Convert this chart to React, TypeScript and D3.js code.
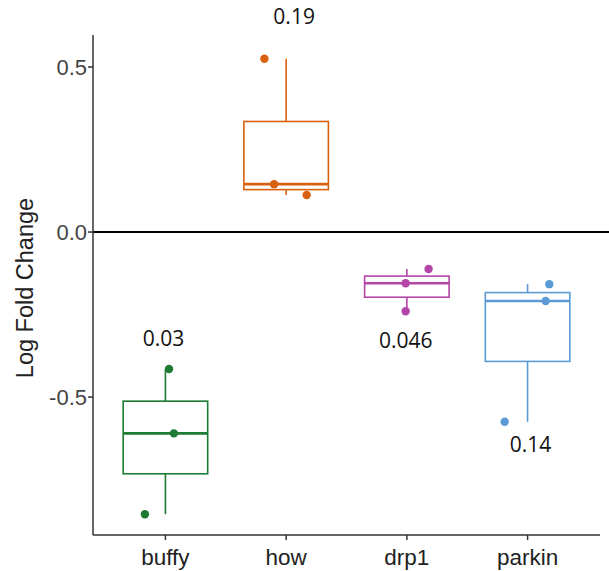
import React from "react";
import * as d3 from "d3";

const categories = ["buffy", "how", "drp1", "parkin"];
const colors = ["#1e7b34", "#d9600f", "#b545a8", "#5b9bd5"];
const buffyValues = [-0.415, -0.61, -0.855];
const howValues = [0.525, 0.145, 0.112];
const drp1Values = [-0.112, -0.155, -0.24];
const parkinValues = [-0.158, -0.209, -0.575];
// horizontal jitter of each point, as a fraction of the category step
const buffyJitter = [0.03, 0.07, -0.17];
const howJitter = [-0.18, -0.1, 0.17];
const drp1Jitter = [0.18, -0.01, -0.01];
const parkinJitter = [0.18, 0.15, -0.19];
const pLabels = ["0.03", "0.19", "0.046", "0.14"];
const pLabelValues = [-0.345, 0.63, -0.35, -0.665];
const yTicks = [0.5, 0.0, -0.5];
const yTickLabels = ["0.5", "0.0", "-0.5"];

const W = 609;
const H = 571;
const left = 93;
const right = 600;
const top = 35;
const bottom = 535;
const axisFont = "'Liberation Sans', Arial, sans-serif";

export default function App() {
  const series = [buffyValues, howValues, drp1Values, parkinValues];
  const jitters = [buffyJitter, howJitter, drp1Jitter, parkinJitter];

  const x = d3
    .scalePoint<string>()
    .domain(categories)
    .range([left, right])
    .padding(0.6);
  const step = x.step();
  const y = d3.scaleLinear().domain([-0.918, 0.597]).range([bottom, top]);
  const boxW = step * 0.7;

  return (
    <svg
      width={W}
      height={H}
      style={{ position: "absolute", left: 0, top: 0 }}
    >
      <rect width={W} height={H} fill="#fff" />
      <line
        x1={left}
        x2={W}
        y1={y(0)}
        y2={y(0)}
        stroke="#000"
        strokeWidth={2}
      />
      {categories.map((c, i) => {
        const vals = series[i].slice().sort(d3.ascending);
        const q1 = d3.quantile(vals, 0.25)!;
        const med = d3.quantile(vals, 0.5)!;
        const q3 = d3.quantile(vals, 0.75)!;
        const mn = d3.min(vals)!;
        const mx = d3.max(vals)!;
        const cx = x(c)!;
        const col = colors[i];
        return (
          <g key={c}>
            <line x1={cx} x2={cx} y1={y(q3)} y2={y(mx)} stroke={col} strokeWidth={1.6} />
            <line x1={cx} x2={cx} y1={y(q1)} y2={y(mn)} stroke={col} strokeWidth={1.6} />
            <rect
              x={cx - boxW / 2}
              y={y(q3)}
              width={boxW}
              height={y(q1) - y(q3)}
              fill="none"
              stroke={col}
              strokeWidth={1.6}
            />
            <line
              x1={cx - boxW / 2}
              x2={cx + boxW / 2}
              y1={y(med)}
              y2={y(med)}
              stroke={col}
              strokeWidth={2.6}
            />
            {series[i].map((v, j) => (
              <circle
                key={j}
                cx={cx + jitters[i][j] * step}
                cy={y(v)}
                r={4.2}
                fill={col}
              />
            ))}
            <text
              x={cx + (i === 1 ? 8 : i === 3 ? 3 : i === 0 ? -2 : -1)}
              y={y(pLabelValues[i])}
              textAnchor="middle"
              fontFamily="'Open Sans', sans-serif"
              fontSize={21}
              fill="#111"
            >
              {pLabels[i]}
            </text>
          </g>
        );
      })}
      <line x1={left} x2={left} y1={top} y2={bottom} stroke="#333" strokeWidth={1.5} />
      <line x1={left} x2={right} y1={bottom} y2={bottom} stroke="#333" strokeWidth={1.5} />
      {yTicks.map((t, i) => (
        <g key={t}>
          <line x1={left - 5} x2={left} y1={y(t)} y2={y(t)} stroke="#333" strokeWidth={1.5} />
          <text
            x={left - 6}
            y={y(t)}
            dy="0.36em"
            textAnchor="end"
            fontFamily={axisFont}
            fontSize={22}
            fill="#444"
          >
            {yTickLabels[i]}
          </text>
        </g>
      ))}
      {categories.map((c) => (
        <g key={c}>
          <line x1={x(c)} x2={x(c)} y1={bottom} y2={bottom + 5} stroke="#333" strokeWidth={1.5} />
          <text
            x={x(c)}
            y={bottom + 30}
            textAnchor="middle"
            fontFamily={axisFont}
            fontSize={22.5}
            fill="#222"
          >
            {c}
          </text>
        </g>
      ))}
      <text
        transform={`translate(33, ${(top + bottom) / 2 + 3}) rotate(-90)`}
        textAnchor="middle"
        fontFamily={axisFont}
        fontSize={23.5}
        fill="#222"
      >
        Log Fold Change
      </text>
    </svg>
  );
}
